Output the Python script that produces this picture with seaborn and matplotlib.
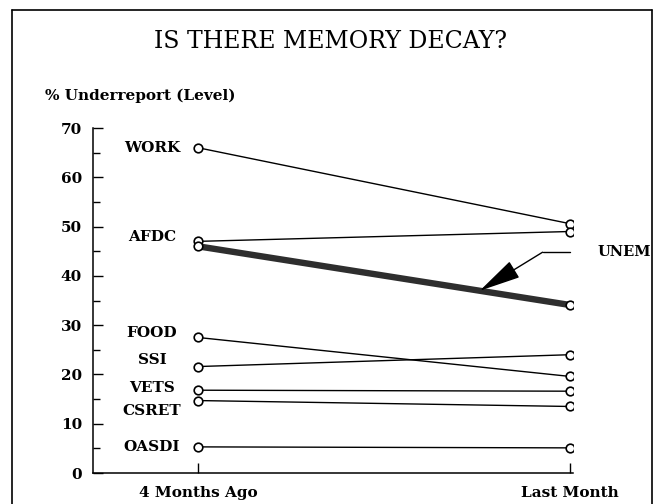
import matplotlib
matplotlib.use("Agg")
import matplotlib.pyplot as plt
from matplotlib.lines import Line2D
from matplotlib.ticker import MultipleLocator
import pandas as pd
import seaborn as sns

# data
periods = ["4 Months Ago", "Last Month"]
programs = ["WORK", "AFDC", "UNEM", "FOOD", "SSI", "VETS", "CSRET", "OASDI"]
months_ago_4 = [66.0, 47.0, 46.0, 27.5, 21.6, 16.8, 14.7, 5.3]
last_month = [50.6, 49.0, 34.1, 19.6, 24.0, 16.6, 13.5, 5.1]

# label offsets from the left point (so they don't overlap)
label_dy = {"WORK": 0.0, "AFDC": 0.9, "FOOD": 0.9, "SSI": 1.3,
            "VETS": 0.4, "CSRET": -2.1, "OASDI": 0.0}

df = pd.DataFrame({
    "program": programs * 2,
    "period": [periods[0]] * len(programs) + [periods[1]] * len(programs),
    "pct": months_ago_4 + last_month,
})
df["x"] = df["period"].map({periods[0]: 0, periods[1]: 1})

sns.set_style("ticks")
plt.rcParams["font.family"] = ["DejaVu Serif"]
for k in ["text.color", "axes.labelcolor", "xtick.color", "ytick.color", "axes.edgecolor"]:
    plt.rcParams[k] = "black"

fig = plt.figure(figsize=(6.56, 5.04), dpi=100)
ax = fig.add_axes([0.142, 0.0615, 0.731, 0.6845])

for p in programs:
    sub = df[df["program"] == p]
    thick = p == "UNEM"
    sns.lineplot(data=sub, x="x", y="pct", ax=ax, color="#2e2e2e" if thick else "black",
                 lw=4.6 if thick else 1.0, marker="o", markersize=6.2,
                 markerfacecolor="white", markeredgecolor="black",
                 markeredgewidth=1.2, legend=False)
    if not thick:
        y0 = sub["pct"].iloc[0] + label_dy[p]
        ax.text(-0.124, y0, p, ha="center", va="center", fontsize=11,
                fontweight="bold")

# UNEM callout
unem0, unem1 = months_ago_4[2], last_month[2]
tx = 0.758
ty = unem0 + (unem1 - unem0) * tx
ax.annotate("", xy=(tx, ty), xytext=(0.927, 44.8),
            arrowprops=dict(arrowstyle="-|>,head_length=2.2,head_width=0.5",
                            mutation_scale=12, color="black", lw=1.0,
                            shrinkA=0, shrinkB=0))
ax.plot([0.927, 1.0], [44.8, 44.8], color="black", lw=1.0, clip_on=False)
ax.text(1.075, 44.8, "UNEM", ha="left", va="center", fontsize=10.5,
        fontweight="bold", clip_on=False)

ax.set_xlim(-0.282, 1.008)
ax.set_ylim(0, 70)
ax.set_xticks([0, 1])
ax.set_xticklabels(periods, fontsize=11, fontweight="bold")
ax.yaxis.set_major_locator(MultipleLocator(10))
ax.yaxis.set_minor_locator(MultipleLocator(5))
for lab in ax.get_yticklabels():
    lab.set_fontweight("bold")
    lab.set_fontsize(11)
ax.tick_params(axis="y", which="major", direction="in", length=7, width=1.0, pad=8)
ax.tick_params(axis="y", which="minor", direction="in", length=5, width=1.0)
ax.tick_params(axis="x", direction="in", length=7, width=1.0, pad=9)
ax.set_xlabel("")
ax.set_ylabel("")
sns.despine(ax=ax)
for s in ["left", "bottom"]:
    ax.spines[s].set_linewidth(1.1)

fig.text(0.504, 0.918, "IS THERE MEMORY DECAY?", ha="center", va="center",
         fontsize=17)
fig.text(0.068, 0.81, "% Underreport (Level)", ha="left", va="center",
         fontsize=11, fontweight="bold")

# frame around the figure (bottom edge cut off in the scan)
fig.add_artist(Line2D([0.018, 0.018], [-0.1, 0.98], color="black", lw=1.2))
fig.add_artist(Line2D([0.018, 0.994], [0.98, 0.98], color="black", lw=1.2))
fig.add_artist(Line2D([0.994, 0.994], [-0.1, 0.98], color="black", lw=1.2))

fig.savefig("out.png", dpi=100)
